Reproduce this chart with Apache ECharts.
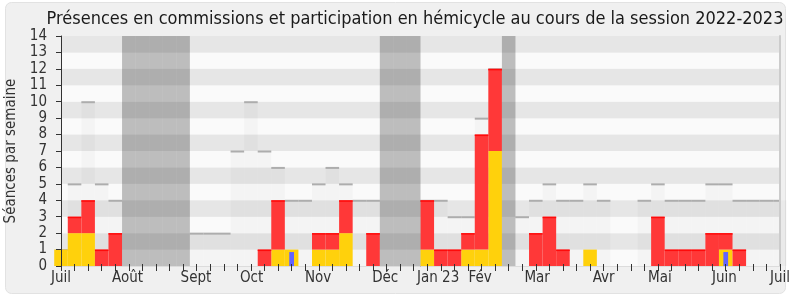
<!DOCTYPE html>
<html><head><meta charset="utf-8">
<script src="https://cdn.jsdelivr.net/npm/echarts@6/dist/echarts.min.js"></script>
<style>html,body{margin:0;padding:0;background:#fff}#c{width:790px;height:300px}</style>
</head><body><div id="c"></div>
<script>
// week index 0..53 (session 2022-2023, one category per week)
const weeks = Array.from({length: 54}, (_, i) => 'S' + i);
// total hemicycle sittings per week (light grey steps)
const seancesTotal = [1,5,10,5,4,0,0,0,0,0,2,2,2,7,10,7,6,4,4,5,6,5,4,4,0,0,0,4,4,3,3,9,12,0,3,4,5,4,4,5,4,0,0,4,5,4,4,4,5,5,4,4,4,4];
// participation in hemicycle (yellow)
const hemicycle = [1,2,2,0,0,0,0,0,0,0,0,0,0,0,0,0,1,1,0,1,1,2,0,0,0,0,0,1,0,0,1,1,7,0,0,0,0,0,0,1,0,0,0,0,0,0,0,0,0,1,0,0,0,0];
// commission presence (red, stacked above yellow)
const commission = [0,1,2,1,2,0,0,0,0,0,0,0,0,0,0,1,3,0,0,1,1,2,0,2,0,0,0,3,1,1,1,7,5,0,0,2,3,1,0,0,0,0,0,0,3,1,1,1,2,1,1,0,0,0];
// blue marks
const questions = [0,0,0,0,0,0,0,0,0,0,0,0,0,0,0,0,0,0.85,0,0,0,0,0,0,0,0,0,0,0,0,0,0,0,0,0,0,0,0,0,0,0,0,0,0,0,0,0,0,0,0.85,0,0,0,0];
// parliamentary holidays (full-height grey)
const vacances = [0,0,0,0,0,14,14,14,14,14,0,0,0,0,0,0,0,0,0,0,0,0,0,0,14,14,14,0,0,0,0,0,0,14,0,0,0,0,0,0,0,0,0,0,0,0,0,0,0,0,0,0,0,0];
// month labels and their positions (in weeks)
const monthLabels = ['Juil','Août','Sept','Oct','Nov','Déc','Jan 23','Fév','Mar','Avr','Mai','Juin','Juil'];
const monthPos = [0, 4.9, 9.95, 14.05, 18.95, 23.9, 27.8, 30.9, 35.1, 40.0, 44.15, 48.9, 53];
const yMax = 14;

const FONT = "'DejaVu Sans Condensed', 'DejaVu Sans', sans-serif";
const chart = echarts.init(document.getElementById('c'), null, {renderer: 'canvas'});

function topLine(color, width, off) {
  return function (params, api) {
    const v = api.value(1);
    if (!v) return null;
    const c = api.coord([api.value(0), v]);
    const w = api.size([1, 0])[0];
    const cs = params.coordSys;
    const x0 = Math.max(c[0] - w / 2, cs.x);
    const x1 = Math.min(c[0] + w / 2, cs.x + cs.width);
    return {type: 'line', shape: {x1: x0, y1: c[1] + off, x2: x1, y2: c[1] + off},
            style: {stroke: color, lineWidth: width}};
  };
}
const redTop = hemicycle.map((h, i) => h + commission[i]);

chart.setOption({
  backgroundColor: '#ffffff',
  animation: false,
  textStyle: {fontFamily: FONT},
  graphic: [{type: 'rect', z: -10, shape: {x: 5.5, y: 2.5, width: 780, height: 291, r: 6},
             style: {fill: '#f0f0f0', stroke: '#e2e2e2', lineWidth: 1}}],
  title: {text: 'Présences en commissions et participation en hémicycle au cours de la session 2022-2023',
          left: 410, textAlign: 'center', top: 5,
          textStyle: {fontFamily: FONT, fontSize: 18, fontWeight: 'normal', color: '#1a1a1a'}},
  grid: {left: 61, right: 10, top: 36, bottom: 34, show: false, containLabel: false, outerBoundsMode: 'none'},
  xAxis: [
    {type: 'category', data: weeks, boundaryGap: false, position: 'bottom', z: 10,
     axisLine: {lineStyle: {color: '#333', width: 1}},
     axisTick: {interval: 0, length: 5, lineStyle: {color: '#333'}},
     axisLabel: {show: false}, splitLine: {show: false}},
    {type: 'category', data: weeks, boundaryGap: false, position: 'top', z: 10,
     axisLine: {lineStyle: {color: '#dcdcdc', width: 1}},
     axisTick: {interval: 0, length: 2, lineStyle: {color: '#333'}},
     axisLabel: {show: false}, splitLine: {show: false}},
    {type: 'value', min: 0, max: 53, position: 'bottom', z: 10,
     axisLine: {show: false}, axisTick: {show: false}, splitLine: {show: false},
     axisLabel: {customValues: monthPos, margin: 5, color: '#333', fontSize: 15, fontFamily: FONT,
                 formatter: v => monthLabels[monthPos.indexOf(v)]}}
  ],
  yAxis: [
    {type: 'value', min: 0, max: yMax, interval: 1, z: 0,
     axisLine: {show: false}, axisTick: {show: false}, axisLabel: {show: false},
     splitLine: {show: false},
     splitArea: {show: true, areaStyle: {color: ['#fafafa', '#e6e6e6']}}},
    {type: 'value', min: 0, max: yMax, interval: 1, position: 'left', z: 10,
     name: 'Séances par semaine', nameLocation: 'middle', nameGap: 40,
     nameTextStyle: {fontFamily: FONT, fontSize: 15, color: '#333'},
     axisLine: {show: true, lineStyle: {color: '#333'}},
     axisTick: {show: true, length: 5, lineStyle: {color: '#333'}},
     axisLabel: {margin: 14, color: '#333', fontSize: 15, fontFamily: FONT},
     splitLine: {show: false}},
    {type: 'value', min: 0, max: yMax, interval: 1, position: 'right', z: 10,
     axisLine: {show: true, lineStyle: {color: '#cccccc', width: 2}},
     axisTick: {show: false}, axisLabel: {show: false}, splitLine: {show: false}}
  ],
  series: [
    {type: 'bar', name: 'total', data: seancesTotal, barWidth: '100%', barGap: '-100%', barCategoryGap: '0%',
     itemStyle: {color: 'rgba(0,0,0,0.022)'}, z: 1, silent: true},
    {type: 'custom', name: 'totalTop', data: seancesTotal.map((v, i) => [i, v]), encode: {x: 0, y: 1},
     renderItem: topLine('#adadad', 2, 0.5), z: 2, silent: true},
    {type: 'bar', name: 'hemicycle', data: hemicycle, stack: 'p', barWidth: '100%', barGap: '-100%',
     itemStyle: {color: '#ffd10c'}, z: 3},
    {type: 'bar', name: 'commission', data: commission, stack: 'p', barWidth: '100%', barGap: '-100%',
     itemStyle: {color: '#ff3838'}, z: 3},
    {type: 'custom', name: 'redTop', data: redTop.map((v, i) => [i, commission[i] ? v : 0]), encode: {x: 0, y: 1},
     renderItem: topLine('#ff0a0a', 1.5, 0.75), z: 4, silent: true},
    {type: 'bar', name: 'questions', data: questions, xAxisIndex: 1, barWidth: '35%',
     itemStyle: {color: '#6464ff'}, z: 5},
    {type: 'bar', name: 'vacances', data: vacances, barWidth: '100%', barGap: '-100%',
     itemStyle: {color: 'rgba(0,0,0,0.245)'}, z: 6, silent: true}
  ]
});
</script></body></html>
